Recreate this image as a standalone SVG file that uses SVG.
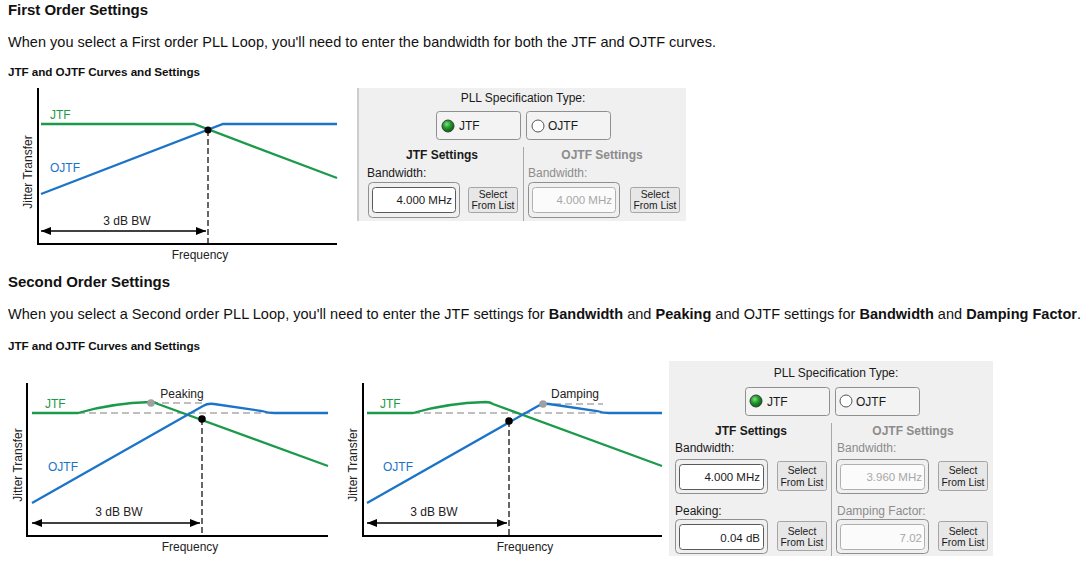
<svg xmlns="http://www.w3.org/2000/svg" width="1089" height="564" viewBox="0 0 1089 564">
<defs>
<style>
text{font-family:"Liberation Sans",Arial,sans-serif;fill:#111}
.h{font-size:15px;font-weight:bold}
.p{font-size:14.5px}
.sh{font-size:11.7px;font-weight:bold}
.ax{stroke:#000;stroke-width:2;fill:none}
.g{stroke:#1c9a4b;stroke-width:2.3;fill:none}
.b{stroke:#1b74c8;stroke-width:2.3;fill:none}
.vd{stroke:#000;stroke-width:1.2;stroke-dasharray:6,3;fill:none}
.hd{stroke:#aaaaaa;stroke-width:1.5;stroke-dasharray:7,4;fill:none}
.arw{stroke:#000;stroke-width:1.5;marker-start:url(#ah);marker-end:url(#ah)}
.ct{font-size:12px;fill:#222}
.gt{font-size:12px;fill:#1c9a4b}
.bt{font-size:12px;fill:#1b74c8}
.pan{fill:#f0f0f0}
.ui{font-size:12px;fill:#1a1a1a}
.uib{font-size:12px;font-weight:bold;fill:#1a1a1a}
.dis{fill:#8c8c8c}
.btn{fill:#f3f3f3;stroke:#8f8f8f;stroke-width:1}
.outer{fill:none;stroke:#8f8f8f;stroke-width:1}
.inner{fill:#fff;stroke:#5a5a5a;stroke-width:1}
.innerd{fill:#fbfbfb;stroke:#b0b0b0;stroke-width:1}
.sel{fill:#e7e7e7;stroke:#a5a5a5;stroke-width:1}
.st{font-size:10.3px;fill:#1a1a1a;text-anchor:middle}
.val{font-size:11.5px;fill:#1a1a1a;text-anchor:end}
.vald{font-size:11.5px;fill:#a8a8a8;text-anchor:end}
.div{stroke:#a8a8a8;stroke-width:1}
</style>
<marker id="ah" viewBox="0 0 10 8" refX="10" refY="4" markerWidth="10" markerHeight="8" markerUnits="userSpaceOnUse" orient="auto-start-reverse">
<path d="M0,0 L10,4 L0,8 z" fill="#000"/>
</marker>
<radialGradient id="rg" cx="0.4" cy="0.35" r="0.65">
<stop offset="0" stop-color="#7fe07f"/>
<stop offset="0.5" stop-color="#1f9a2a"/>
<stop offset="1" stop-color="#0b5e14"/>
</radialGradient>
</defs>
<rect width="1089" height="564" fill="#fff"/>

<g id="texts">
<text class="h" x="8" y="15" textLength="140">First Order Settings</text>
<text class="p" x="8" y="47" textLength="708">When you select a First order PLL Loop, you'll need to enter the bandwidth for both the JTF and OJTF curves.</text>
<text class="sh" x="8" y="76" textLength="192">JTF and OJTF Curves and Settings</text>
<text class="h" x="8" y="287" textLength="162">Second Order Settings</text>
<text class="p" x="8" y="319" textLength="1073">When you select a Second order PLL Loop, you'll need to enter the JTF settings for <tspan font-weight="bold">Bandwidth</tspan> and <tspan font-weight="bold">Peaking</tspan> and OJTF settings for <tspan font-weight="bold">Bandwidth</tspan> and <tspan font-weight="bold">Damping Factor</tspan>.</text>
<text class="sh" x="8" y="350" textLength="192">JTF and OJTF Curves and Settings</text>
</g>

<g id="chart1">
<path class="ax" d="M38,88 V244 H337"/>
<path class="g" d="M41,124 H194 L337,178"/>
<path class="b" d="M41,194 L223,124 H337"/>
<path class="vd" d="M208,130 V243"/>
<line class="arw" x1="41" y1="231" x2="206" y2="231"/>
<circle cx="208" cy="130" r="3.5" fill="#000"/>
<text class="gt" x="50" y="119">JTF</text>
<text class="bt" x="50" y="172">OJTF</text>
<text class="ct" x="127" y="225" text-anchor="middle">3 dB BW</text>
<text class="ct" x="200" y="259" text-anchor="middle">Frequency</text>
<text class="ct" x="32" y="172" text-anchor="middle" transform="rotate(-90 32 172)">Jitter Transfer</text>
</g>

<g id="panel1">
<rect class="pan" x="357" y="88" width="329" height="133"/>
<line class="div" x1="358" y1="88" x2="358" y2="221"/>
<text class="ui" x="523" y="102" text-anchor="middle">PLL Specification Type:</text>
<rect class="btn" x="436.5" y="111.5" width="84" height="28" rx="3"/>
<circle cx="448" cy="126" r="6" fill="url(#rg)" stroke="#3a3a3a" stroke-width="1"/>
<text class="ui" x="459" y="130">JTF</text>
<rect class="btn" x="526.5" y="111.5" width="84" height="28" rx="3"/>
<circle cx="538" cy="126" r="6" fill="#fff" stroke="#555" stroke-width="1"/>
<text class="ui" x="548" y="130">OJTF</text>
<line class="div" x1="523.5" y1="147" x2="523.5" y2="221"/>
<text class="uib" x="442" y="159" text-anchor="middle">JTF Settings</text>
<text class="uib dis" x="602" y="159" text-anchor="middle">OJTF Settings</text>
<text class="ui" x="367" y="177">Bandwidth:</text>
<text class="ui dis" x="528" y="177">Bandwidth:</text>
<rect class="outer" x="368.5" y="182.5" width="91" height="35" rx="4"/>
<rect class="inner" x="372.5" y="187.5" width="83" height="25" rx="3"/>
<text class="val" x="452" y="204">4.000 MHz</text>
<rect class="sel" x="468.5" y="187.5" width="49" height="25" rx="2"/>
<text class="st" x="493" y="198">Select</text>
<text class="st" x="493" y="209">From List</text>
<rect class="outer" x="528.5" y="182.5" width="91" height="35" rx="4"/>
<rect class="innerd" x="532.5" y="187.5" width="83" height="25" rx="3"/>
<text class="vald" x="612" y="204">4.000 MHz</text>
<rect class="sel" x="630.5" y="187.5" width="49" height="25" rx="2"/>
<text class="st" x="655" y="198">Select</text>
<text class="st" x="655" y="209">From List</text>
</g>

<g id="chart2">
<path class="ax" d="M27,383 V536 H328"/>
<path class="hd" d="M78,413 H274"/>
<path class="hd" d="M151,403 H206"/>
<path class="g" d="M32,413 H78 Q112,403 151,402 Q155,402 158,404 L328,466"/>
<path class="b" d="M32,503 L203,406 Q208,403 214,404 L262,411 Q268,413 274,413 H328"/>
<path class="vd" d="M202,419 V535"/>
<line class="arw" x1="32" y1="523" x2="200" y2="523"/>
<circle cx="151" cy="403" r="3.8" fill="#a0a0a0"/>
<circle cx="202" cy="419" r="3.8" fill="#000"/>
<text class="gt" x="45" y="408">JTF</text>
<text class="bt" x="48" y="471">OJTF</text>
<text class="ct" x="182" y="398" text-anchor="middle">Peaking</text>
<text class="ct" x="119" y="516" text-anchor="middle">3 dB BW</text>
<text class="ct" x="190" y="551" text-anchor="middle">Frequency</text>
<text class="ct" x="22" y="465" text-anchor="middle" transform="rotate(-90 22 465)">Jitter Transfer</text>
</g>

<g id="chart3">
<path class="ax" d="M363,383 V536 H662"/>
<path class="hd" d="M413,413 H609"/>
<path class="hd" d="M543,404 H603"/>
<path class="g" d="M367,413 H413 Q447,403 486,402 Q490,402 493,404 L662,466"/>
<path class="b" d="M367,503 L538,406 Q543,403 549,404 L597,411 Q603,413 609,413 H662"/>
<path class="vd" d="M509,421 V535"/>
<line class="arw" x1="367" y1="523" x2="507" y2="523"/>
<circle cx="543" cy="404" r="3.8" fill="#a0a0a0"/>
<circle cx="509" cy="421" r="3.8" fill="#000"/>
<text class="gt" x="380" y="408">JTF</text>
<text class="bt" x="383" y="471">OJTF</text>
<text class="ct" x="575" y="398" text-anchor="middle">Damping</text>
<text class="ct" x="434" y="516" text-anchor="middle">3 dB BW</text>
<text class="ct" x="525" y="551" text-anchor="middle">Frequency</text>
<text class="ct" x="357" y="465" text-anchor="middle" transform="rotate(-90 357 465)">Jitter Transfer</text>
</g>

<g id="panel2">
<rect class="pan" x="669" y="361" width="324" height="195"/>
<text class="ui" x="836" y="377" text-anchor="middle">PLL Specification Type:</text>
<rect class="btn" x="745.5" y="387.5" width="84" height="28" rx="3"/>
<circle cx="756" cy="401" r="6" fill="url(#rg)" stroke="#3a3a3a" stroke-width="1"/>
<text class="ui" x="767" y="406">JTF</text>
<rect class="btn" x="835.5" y="387.5" width="84" height="28" rx="3"/>
<circle cx="846" cy="401" r="6" fill="#fff" stroke="#555" stroke-width="1"/>
<text class="ui" x="856" y="406">OJTF</text>
<line class="div" x1="831.5" y1="423" x2="831.5" y2="556"/>
<text class="uib" x="751" y="435" text-anchor="middle">JTF Settings</text>
<text class="uib dis" x="913" y="435" text-anchor="middle">OJTF Settings</text>
<text class="ui" x="675" y="452">Bandwidth:</text>
<text class="ui dis" x="837" y="452">Bandwidth:</text>
<rect class="outer" x="675.5" y="459.5" width="92" height="34" rx="4"/>
<rect class="inner" x="679.5" y="464.5" width="84" height="25" rx="3"/>
<text class="val" x="760" y="481">4.000 MHz</text>
<rect class="sel" x="777.5" y="461.5" width="49" height="29" rx="2"/>
<text class="st" x="802" y="474">Select</text>
<text class="st" x="802" y="486">From List</text>
<rect class="outer" x="836.5" y="459.5" width="92" height="34" rx="4"/>
<rect class="innerd" x="840.5" y="464.5" width="84" height="25" rx="3"/>
<text class="vald" x="922" y="481">3.960 MHz</text>
<rect class="sel" x="938.5" y="461.5" width="49" height="29" rx="2"/>
<text class="st" x="963" y="474">Select</text>
<text class="st" x="963" y="486">From List</text>
<text class="ui" x="675" y="515">Peaking:</text>
<text class="ui dis" x="837" y="515">Damping Factor:</text>
<rect class="outer" x="675.5" y="519.5" width="92" height="34" rx="4"/>
<rect class="inner" x="679.5" y="524.5" width="84" height="25" rx="3"/>
<text class="val" x="760" y="542">0.04 dB</text>
<rect class="sel" x="777.5" y="521.5" width="49" height="29" rx="2"/>
<text class="st" x="802" y="535">Select</text>
<text class="st" x="802" y="546">From List</text>
<rect class="outer" x="836.5" y="519.5" width="92" height="34" rx="4"/>
<rect class="innerd" x="840.5" y="524.5" width="84" height="25" rx="3"/>
<text class="vald" x="922" y="542">7.02</text>
<rect class="sel" x="938.5" y="521.5" width="49" height="29" rx="2"/>
<text class="st" x="963" y="535">Select</text>
<text class="st" x="963" y="546">From List</text>
</g>
</svg>
